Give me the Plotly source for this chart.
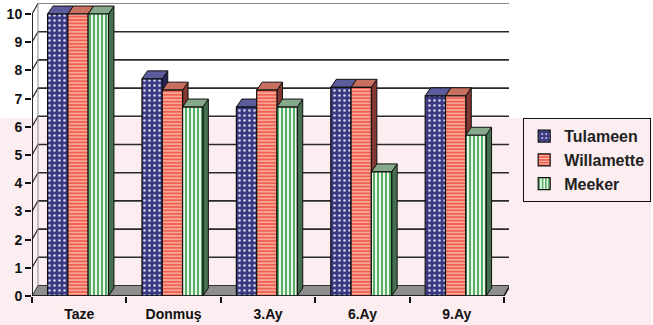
import plotly.graph_objects as go

# ---- data -------------------------------------------------------------
categories = ["Taze", "Donmuş", "3.Ay", "6.Ay", "9.Ay"]
tulameen = [10.0, 7.7, 6.7, 7.4, 7.1]
willamette = [10.0, 7.3, 7.3, 7.4, 7.1]
meeker = [10.0, 6.7, 6.7, 4.4, 5.7]
y_ticks = list(range(0, 11))

series = [
    ("Tulameen", tulameen),
    ("Willamette", willamette),
    ("Meeker", meeker),
]

# ---- styling ----------------------------------------------------------
styles = {
    "Tulameen": dict(front="#3a3982", dot="#d6d6f0", shape=".", size=5, solidity=0.2,
                     top="#5c5b9c", side="#24235a"),
    "Willamette": dict(front="#f0604e", dot="#ffe2d8", shape="-", size=3.4, solidity=0.27,
                       top="#c8705f", side="#843831"),
    "Meeker": dict(front="#eaf7e6", dot="#45a65a", shape="|", size=4, solidity=0.45,
                   top="#86a98b", side="#45704f"),
}

FONT = "Liberation Sans, Arial, sans-serif"
FIG_W, FIG_H = 653, 325
M_L, M_R, M_T, M_B = 32, 143, 3, 29
PLOT_W = FIG_W - M_L - M_R
PLOT_H = FIG_H - M_T - M_B
X_UNIT = 94.6   # px per category
Y_UNIT = 28.2   # px per value unit
x_range = [-0.5, -0.5 + PLOT_W / X_UNIT]
y_range = [0, PLOT_H / Y_UNIT]

# depth of the box walls and of the bars (pixels -> data units)
WALL_DX, WALL_DY = 6 / X_UNIT, 10.5 / Y_UNIT
BAR_DX, BAR_DY = 5.5 / X_UNIT, 8 / Y_UNIT
BAR_W = 0.215
BAR_START = -0.335

n_cat = len(categories)
x_idx = list(range(n_cat))
x_lo, x_hi = -0.5, n_cat - 0.5
y_top = max(y_ticks)


def path(pts):
    return "M " + " L ".join(f"{x},{y}" for x, y in pts) + " Z"


shapes = []

# faint pink tint over the lower part of the page
TINT_TOP_PX = 118
shapes.append(dict(type="rect", xref="paper", yref="paper", layer="below",
                   x0=-M_L / PLOT_W, x1=(FIG_W - M_L) / PLOT_W,
                   y0=-M_B / PLOT_H, y1=(FIG_H - M_B - TINT_TOP_PX) / PLOT_H,
                   fillcolor="#fcedf0", line=dict(width=0)))

# floor
shapes.append(dict(type="path", xref="x", yref="y", layer="below",
                   path=path([(x_lo, 0), (x_hi, 0), (x_hi + WALL_DX, WALL_DY), (x_lo + WALL_DX, WALL_DY)]),
                   fillcolor="#8e8e8e", line=dict(color="#333333", width=1)))

# back wall gridlines and side-wall stubs
for v in y_ticks[1:]:
    is_top = v == y_top
    shapes.append(dict(type="line", xref="x", yref="y", layer="below",
                       x0=x_lo + WALL_DX, x1=x_hi + WALL_DX, y0=v + WALL_DY, y1=v + WALL_DY,
                       line=dict(color="#888888" if is_top else "#2a2a2a", width=1 if is_top else 1.6)))
    shapes.append(dict(type="line", xref="x", yref="y", layer="below",
                       x0=x_lo, x1=x_lo + WALL_DX, y0=v, y1=v + WALL_DY,
                       line=dict(color="#2a2a2a", width=1.2)))
# back corners of the walls
for xb in (x_lo + WALL_DX, x_hi + WALL_DX):
    shapes.append(dict(type="line", xref="x", yref="y", layer="below",
                       x0=xb, x1=xb, y0=WALL_DY, y1=y_top + WALL_DY,
                       line=dict(color="#8a8a8a", width=1)))
# floor right edge
shapes.append(dict(type="line", xref="x", yref="y", layer="below",
                   x0=x_hi, x1=x_hi + WALL_DX, y0=0, y1=WALL_DY,
                   line=dict(color="#222222", width=1.6)))

# 3-D top and side faces of every bar
for j, (name, vals) in enumerate(series):
    st = styles[name]
    for i, v in enumerate(vals):
        xl = i + BAR_START + j * BAR_W
        xr = xl + BAR_W
        shapes.append(dict(type="path", xref="x", yref="y", layer="below",
                           path=path([(xr, 0), (xr, v), (xr + BAR_DX, v + BAR_DY), (xr + BAR_DX, BAR_DY)]),
                           fillcolor=st["side"], line=dict(color="#111111", width=1)))
        shapes.append(dict(type="path", xref="x", yref="y", layer="below",
                           path=path([(xl, v), (xr, v), (xr + BAR_DX, v + BAR_DY), (xl + BAR_DX, v + BAR_DY)]),
                           fillcolor=st["top"], line=dict(color="#111111", width=1)))

# front edges of the box
shapes.append(dict(type="line", xref="x", yref="y", layer="above",
                   x0=x_lo, x1=x_lo, y0=0, y1=y_top, line=dict(color="#111111", width=1.8)))
shapes.append(dict(type="line", xref="x", yref="y", layer="above",
                   x0=x_lo, x1=x_hi, y0=0, y1=0, line=dict(color="#111111", width=1.6)))

fig = go.Figure()
for j, (name, vals) in enumerate(series):
    st = styles[name]
    fig.add_trace(go.Bar(
        name=name, x=x_idx, y=vals,
        width=BAR_W, offset=BAR_START + j * BAR_W,
        legendgroup=name,
        marker=dict(color=st["front"],
                    line=dict(color="#111111", width=1.2),
                    pattern=dict(shape=st["shape"], fgcolor=st["dot"], bgcolor=st["front"],
                                 size=st["size"], solidity=st["solidity"], fillmode="replace")),
        hoverinfo="skip",
    ))

fig.update_layout(
    width=FIG_W, height=FIG_H,
    margin=dict(l=M_L, r=M_R, t=M_T, b=M_B, pad=0),
    paper_bgcolor="white", plot_bgcolor="rgba(0,0,0,0)",
    barmode="overlay",
    shapes=shapes,
    showlegend=True,
    legend=dict(x=(651 - M_L) / PLOT_W, xanchor="right",
                y=(FIG_H - M_B - 118) / PLOT_H, yanchor="top",
                bgcolor="rgba(0,0,0,0)", bordercolor="#111111", borderwidth=1.2,
                font=dict(family=FONT, size=16, color="#222222", weight="bold"),
                tracegroupgap=7, itemwidth=30, traceorder="normal"),
    xaxis=dict(range=x_range, tickmode="array", tickvals=x_idx, ticktext=categories,
               ticks="", showgrid=False, zeroline=False, showline=False,
               tickfont=dict(family=FONT, size=14, color="#111111", weight="bold"),
               ticklabelstandoff=8,
               minor=dict(tickmode="array", tickvals=[k - 0.5 for k in range(n_cat + 1)],
                          ticks="outside", ticklen=6, tickwidth=1.6, tickcolor="#111111",
                          showgrid=False),
               fixedrange=True),
    yaxis=dict(range=y_range, tickmode="array", tickvals=y_ticks,
               ticks="outside", ticklen=6, tickwidth=1.6, tickcolor="#111111",
               showgrid=False, zeroline=False, showline=False,
               tickfont=dict(family=FONT, size=14, color="#111111", weight="bold"),
               fixedrange=True),
)

fig.write_html("out.html")
